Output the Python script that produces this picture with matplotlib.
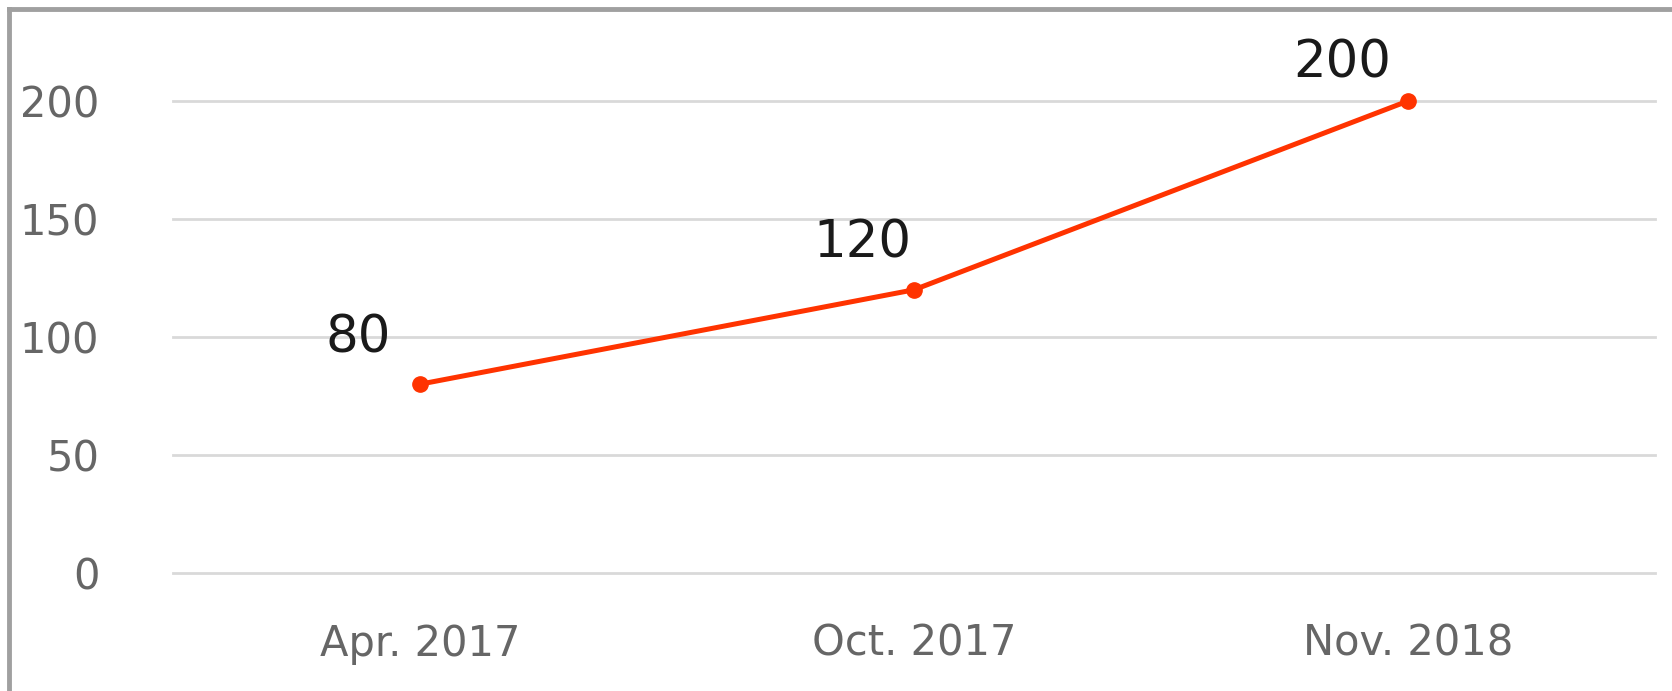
import matplotlib
matplotlib.use("Agg")
import matplotlib.pyplot as plt
from matplotlib.lines import Line2D

# data
categories = ["Apr. 2017", "Oct. 2017", "Nov. 2018"]
values = [80, 120, 200]
yticks = [0, 50, 100, 150, 200]

# label offsets in pixels (dx, dy) from each point
label_offsets = [(-62, 46), (-52, 46), (-66, 38)]

fig = plt.figure(figsize=(16.72, 6.91), dpi=100)
ax = fig.add_axes([173 / 1672, (691 - 573) / 691, (1655 - 173) / 1672, (573 - 101) / 691])

x = list(range(len(categories)))
ax.plot(x, values, color="#ff3300", lw=3.6, marker="o", ms=11, clip_on=False, zorder=3)

for xi, v, off in zip(x, values, label_offsets):
    ax.annotate(str(v), (xi, v), xytext=off, textcoords="offset pixels",
                ha="center", va="center", fontsize=37, color="#1a1a1a")

ax.set_xlim(-0.5, len(categories) - 0.5)
ax.set_ylim(0, 200)
ax.set_xticks(x)
ax.set_xticklabels(categories)
ax.set_yticks(yticks)
ax.tick_params(axis="both", length=0, labelsize=30, labelcolor="#666666")
ax.tick_params(axis="y", pad=53)
ax.tick_params(axis="x", pad=36)
ax.grid(axis="y", color="#d9d9d9", lw=2)
for gl in ax.get_ygridlines():
    gl.set_clip_on(False)
ax.set_axisbelow(True)
for s in ax.spines.values():
    s.set_visible(False)

# outer frame (only top and left visible in the crop)
fig.add_artist(Line2D([9 / 1672, 9 / 1672], [0, 1 - 9 / 691], transform=fig.transFigure,
                      color="#a0a0a0", lw=3.5, solid_capstyle="projecting"))
fig.add_artist(Line2D([9 / 1672, 1], [1 - 9 / 691, 1 - 9 / 691], transform=fig.transFigure,
                      color="#a0a0a0", lw=3.5, solid_capstyle="projecting"))

fig.savefig("out.png", dpi=100)
